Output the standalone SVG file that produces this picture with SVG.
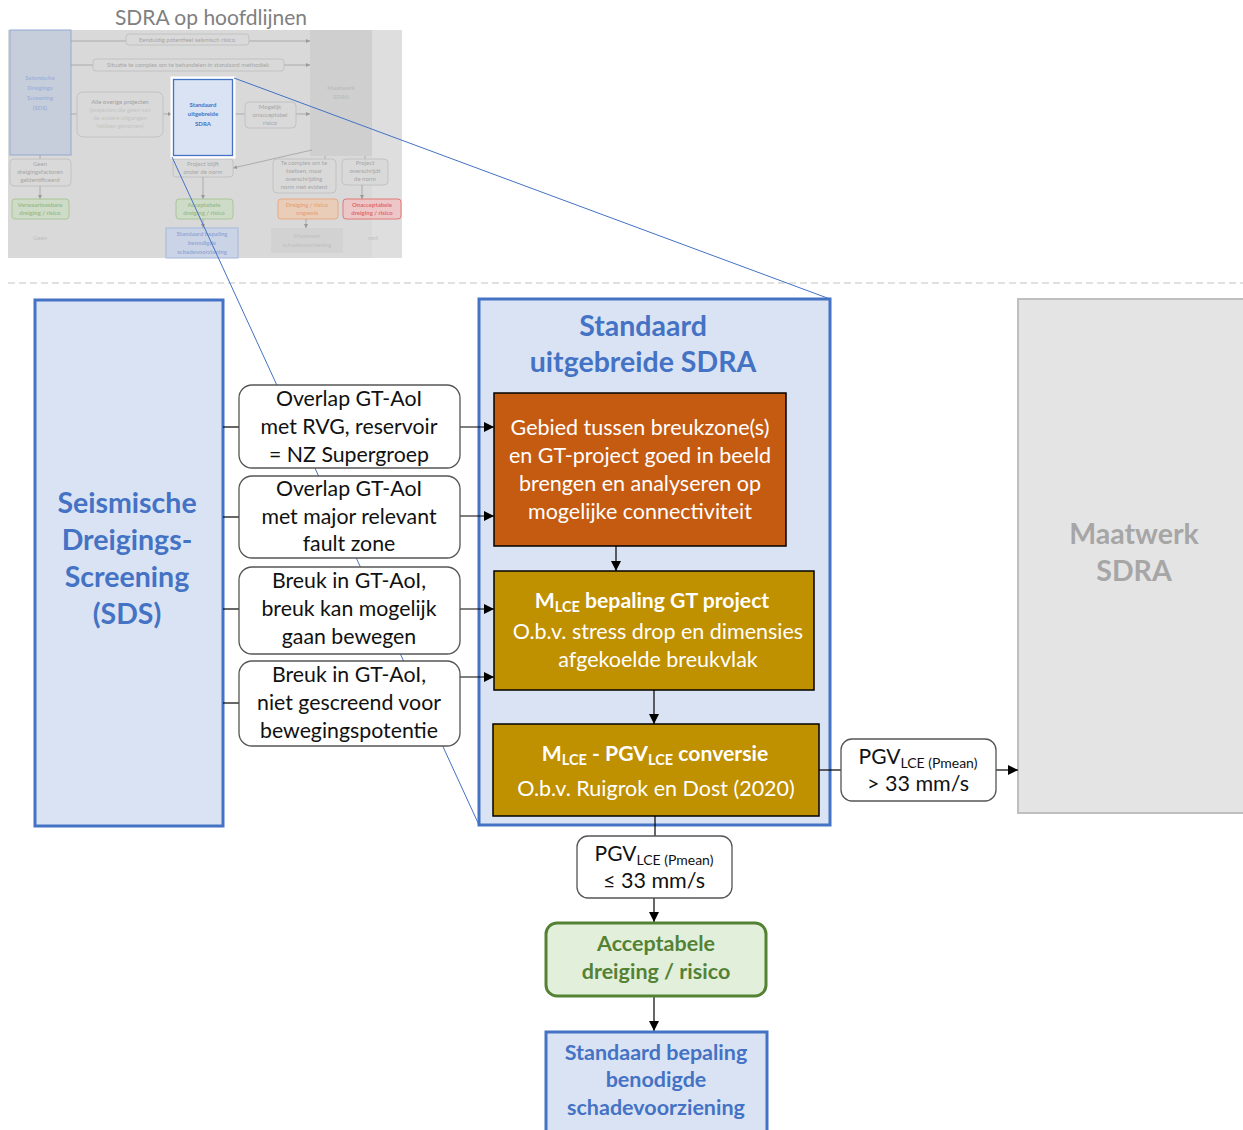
<svg xmlns="http://www.w3.org/2000/svg" width="1243" height="1130" viewBox="0 0 1243 1130">
<defs>
<marker id="ah" markerWidth="10" markerHeight="10" refX="10" refY="5" orient="auto" markerUnits="userSpaceOnUse">
<path d="M0,0 L10,5 L0,10 Z" fill="#000"/>
</marker>
<marker id="ahs" markerWidth="4" markerHeight="4" refX="4" refY="2" orient="auto" markerUnits="userSpaceOnUse">
<path d="M0,0 L4,2 L0,4 Z" fill="#999"/>
</marker>
<style>
text{font-family:Lato,"Liberation Sans",sans-serif;text-anchor:middle;}
.opt{fill:#fff;stroke:#555;stroke-width:1.3;}
.optt{font-size:21.3px;fill:#111;}
.blue{fill:#dae3f3;stroke:#4472c4;stroke-width:3;}
.bt{font-weight:bold;fill:#4472c4;}
.wt{fill:#fff;font-size:21.5px;}
.wtb{fill:#fff;font-size:21.2px;font-weight:bold;}
.conn{stroke:#000;stroke-width:1.2;fill:none;}
.th{font-size:6px;fill:#a6a6a6;}
.thl{stroke:#a0a0a0;stroke-width:0.8;fill:none;}
.thb{fill:#d9d9d9;stroke:#c2c2c2;stroke-width:1;}
.zoom{stroke:#4472c4;stroke-width:1;fill:none;}
</style>
</defs>

<!-- Thumbnail overview -->
<g id="thumbnail">
<text x="211" y="25" style="font-size:21px;fill:#808080;">SDRA op hoofdlijnen</text>
<rect x="8" y="30" width="394" height="228" fill="#d9d9d9"/>
<rect x="372" y="30" width="30" height="228" fill="#dedede"/>
<rect x="10" y="30" width="61" height="125" fill="#c7cedb" stroke="#93a9d2" stroke-width="1"/>
<text class="th" x="40" y="80" style="fill:#9db2d9;font-weight:bold;">Seismische</text>
<text class="th" x="40" y="90" style="fill:#9db2d9;font-weight:bold;">Dreigings</text>
<text class="th" x="40" y="100" style="fill:#9db2d9;font-weight:bold;">Screening</text>
<text class="th" x="40" y="110" style="fill:#9db2d9;font-weight:bold;">(SDS)</text>
<rect x="310" y="30" width="62" height="126" fill="#cfcfcf"/>
<text class="th" x="341" y="90" style="fill:#bdbdbd;font-weight:bold;">Maatwerk</text>
<text class="th" x="341" y="99" style="fill:#bdbdbd;font-weight:bold;">SDRA</text>
<line class="thl" x1="71" y1="41" x2="310" y2="41" marker-end="url(#ahs)"/>
<line class="thl" x1="71" y1="65" x2="310" y2="65" marker-end="url(#ahs)"/>
<line class="thl" x1="71" y1="114" x2="172" y2="114" marker-end="url(#ahs)"/>
<line class="thl" x1="234" y1="114" x2="310" y2="114" marker-end="url(#ahs)"/>
<rect class="thb" x="126" y="34" width="123" height="11" rx="3"/>
<text class="th" x="187" y="42">Eenduidig potentieel seismisch risico</text>
<rect class="thb" x="93" y="59" width="191" height="12" rx="3"/>
<text class="th" x="188" y="67">Situatie te complex om te behandelen in standaard methodiek</text>
<rect class="thb" x="77" y="92" width="86" height="45" rx="6"/>
<text class="th" x="120" y="104" style="fill:#a0a0a0;">Alle overige projecten</text>
<text class="th" x="120" y="112" style="fill:#c4c4c4;">(projecten die geen van</text>
<text class="th" x="120" y="120" style="fill:#c4c4c4;">de andere uitgangen</text>
<text class="th" x="120" y="128" style="fill:#c4c4c4;">hebben genomen)</text>
<rect class="thb" x="245" y="102" width="51" height="26" rx="4"/>
<text class="th" x="270" y="109">Mogelijk</text>
<text class="th" x="270" y="117">onacceptabel</text>
<text class="th" x="270" y="125">risico</text>
<line class="thl" x1="40" y1="155" x2="40" y2="159"/>
<rect class="thb" x="10" y="159" width="61" height="27" rx="4"/>
<text class="th" x="40" y="166">Geen</text>
<text class="th" x="40" y="174">dreigingsfactoren</text>
<text class="th" x="40" y="182">geïdentificeerd</text>
<line class="thl" x1="40" y1="186" x2="40" y2="199" marker-end="url(#ahs)"/>
<rect x="12" y="199" width="57" height="20" rx="3" fill="#cedbc7" stroke="#a9c69a"/>
<text class="th" x="40" y="207" style="fill:#9dbb8c;font-weight:bold;">Verwaarloosbare</text>
<text class="th" x="40" y="215" style="fill:#9dbb8c;font-weight:bold;">dreiging / risico</text>
<text class="th" x="40" y="240" style="fill:#bdbdbd;">Geen</text>
<line class="thl" x1="312" y1="150" x2="233" y2="168" marker-end="url(#ahs)"/>
<rect class="thb" x="173" y="159" width="60" height="18" rx="3"/>
<text class="th" x="203" y="166">Project blijft</text>
<text class="th" x="203" y="174">onder de norm</text>
<line class="thl" x1="203" y1="177" x2="203" y2="199" marker-end="url(#ahs)"/>
<rect x="176" y="199" width="57" height="20" rx="3" fill="#cedbc7" stroke="#a9c69a"/>
<text class="th" x="204" y="207" style="fill:#9dbb8c;font-weight:bold;">Acceptabele</text>
<text class="th" x="204" y="215" style="fill:#9dbb8c;font-weight:bold;">dreiging / risico</text>
<line class="thl" x1="203" y1="219" x2="203" y2="228" marker-end="url(#ahs)"/>
<rect x="166" y="228" width="72" height="30" fill="#cbd4e6" stroke="#a3b7dc"/>
<text class="th" x="202" y="236" style="fill:#93a9d4;font-weight:bold;">Standaard bepaling</text>
<text class="th" x="202" y="245" style="fill:#93a9d4;font-weight:bold;">benodigde</text>
<text class="th" x="202" y="254" style="fill:#93a9d4;font-weight:bold;">schadevoorziening</text>
<line class="thl" x1="325" y1="156" x2="325" y2="159"/>
<rect class="thb" x="273" y="159" width="63" height="34" rx="4"/>
<text class="th" x="304" y="165">Te complex om te</text>
<text class="th" x="304" y="173">toetsen, maar</text>
<text class="th" x="304" y="181">overschrijding</text>
<text class="th" x="304" y="189">norm niet evident</text>
<rect x="278" y="199" width="60" height="20" rx="3" fill="#e9cdb9" stroke="#e6a982"/>
<text class="th" x="307" y="207" style="fill:#e7a67e;font-weight:bold;">Dreiging / risico</text>
<text class="th" x="307" y="215" style="fill:#e7a67e;font-weight:bold;">ongewis</text>
<line class="thl" x1="306" y1="219" x2="306" y2="228" marker-end="url(#ahs)"/>
<rect x="271" y="228" width="72" height="25" fill="#d2d2d2"/>
<text class="th" x="307" y="238" style="fill:#c0c0c0;">Maatwerk</text>
<text class="th" x="307" y="247" style="fill:#c0c0c0;">schadevoorziening</text>
<line class="thl" x1="365" y1="156" x2="365" y2="159"/>
<rect class="thb" x="342" y="159" width="46" height="26" rx="4"/>
<text class="th" x="365" y="165">Project</text>
<text class="th" x="365" y="173">overschrijdt</text>
<text class="th" x="365" y="181">de norm</text>
<line class="thl" x1="362" y1="185" x2="362" y2="199" marker-end="url(#ahs)"/>
<rect x="343" y="199" width="58" height="20" rx="3" fill="#edc7c7" stroke="#e07a7a"/>
<text class="th" x="372" y="207" style="fill:#e06b6b;font-weight:bold;">Onacceptabele</text>
<text class="th" x="372" y="215" style="fill:#e06b6b;font-weight:bold;">dreiging / risico</text>
<text class="th" x="373" y="240" style="fill:#bdbdbd;">mvt</text>
<rect x="172" y="78" width="62" height="79" fill="#dae3f3" stroke="#fff" stroke-width="3"/>
<rect x="173.5" y="79.5" width="59" height="76" fill="#dae3f3" stroke="#4472c4" stroke-width="1.3"/>
<text class="th" x="203" y="107" style="fill:#4472c4;font-weight:bold;">Standaard</text>
<text class="th" x="203" y="116" style="fill:#4472c4;font-weight:bold;">uitgebreide</text>
<text class="th" x="203" y="126" style="fill:#4472c4;font-weight:bold;">SDRA</text>
</g>

<line x1="8" y1="283" x2="1243" y2="283" stroke="#c4c4c4" stroke-width="1.2" stroke-dasharray="7,4"/>

<!-- zoom lines (behind nodes) -->
<g id="zoomlines">
<line class="zoom" x1="234" y1="78" x2="830" y2="299"/>
<line class="zoom" x1="172" y1="157" x2="479" y2="825"/>
</g>

<g id="sds">
<rect class="blue" x="35" y="300" width="188" height="526"/>
<text class="bt" x="127" y="513" style="font-size:28.5px;">Seismische</text>
<text class="bt" x="127" y="550" style="font-size:28.5px;">Dreigings-</text>
<text class="bt" x="127" y="587" style="font-size:28.5px;">Screening</text>
<text class="bt" x="127" y="624" style="font-size:28.5px;">(SDS)</text>
</g>

<g id="standaard">
<rect class="blue" x="479" y="299" width="351" height="526"/>
<text class="bt" x="643" y="336" style="font-size:28.5px;">Standaard</text>
<text class="bt" x="643" y="372" style="font-size:28.5px;">uitgebreide SDRA</text>
</g>

<g id="maatwerk">
<rect x="1018" y="299" width="240" height="514" fill="#e4e4e4" stroke="#bfbfbf" stroke-width="2"/>
<text x="1134" y="544" style="font-size:28.5px;font-weight:bold;fill:#a6a6a6;">Maatwerk</text>
<text x="1134" y="581" style="font-size:28.5px;font-weight:bold;fill:#a6a6a6;">SDRA</text>
</g>

<!-- connectors -->
<g id="connectors">
<line class="conn" x1="223" y1="427" x2="239" y2="427"/>
<line class="conn" x1="223" y1="517" x2="239" y2="517"/>
<line class="conn" x1="223" y1="609" x2="239" y2="609"/>
<line class="conn" x1="223" y1="703" x2="239" y2="703"/>
<line class="conn" x1="460" y1="427" x2="494" y2="427" marker-end="url(#ah)"/>
<line class="conn" x1="460" y1="516" x2="494" y2="516" marker-end="url(#ah)"/>
<line class="conn" x1="460" y1="609" x2="494" y2="609" marker-end="url(#ah)"/>
<line class="conn" x1="460" y1="677" x2="494" y2="677" marker-end="url(#ah)"/>
<line class="conn" x1="616" y1="546" x2="616" y2="571" marker-end="url(#ah)"/>
<line class="conn" x1="654" y1="690" x2="654" y2="724" marker-end="url(#ah)"/>
<line class="conn" x1="819" y1="770" x2="841" y2="770"/>
<line class="conn" x1="996" y1="770" x2="1018" y2="770" marker-end="url(#ah)"/>
<line class="conn" x1="655" y1="816" x2="655" y2="836"/>
<line class="conn" x1="654" y1="898" x2="654" y2="922" marker-end="url(#ah)"/>
<line class="conn" x1="654" y1="996" x2="654" y2="1031" marker-end="url(#ah)"/>
</g>

<g id="opt1">
<rect class="opt" x="239" y="385" width="221" height="83" rx="13"/>
<text class="optt" x="349" y="406">Overlap GT-AoI</text>
<text class="optt" x="349" y="434">met RVG, reservoir</text>
<text class="optt" x="349" y="462">= NZ Supergroep</text>
</g>
<g id="opt2">
<rect class="opt" x="239" y="476" width="221" height="82" rx="13"/>
<text class="optt" x="349" y="496">Overlap GT-AoI</text>
<text class="optt" x="349" y="524">met major relevant</text>
<text class="optt" x="349" y="551">fault zone</text>
</g>
<g id="opt3">
<rect class="opt" x="239" y="567" width="221" height="87" rx="13"/>
<text class="optt" x="349" y="588">Breuk in GT-AoI,</text>
<text class="optt" x="349" y="616">breuk kan mogelijk</text>
<text class="optt" x="349" y="644">gaan bewegen</text>
</g>
<g id="opt4">
<rect class="opt" x="239" y="661" width="221" height="85" rx="13"/>
<text class="optt" x="349" y="682">Breuk in GT-AoI,</text>
<text class="optt" x="349" y="710">niet gescreend voor</text>
<text class="optt" x="349" y="738">bewegingspotentie</text>
</g>

<g id="gebied">
<rect x="494" y="393" width="292" height="153" fill="#c55a11" stroke="#000" stroke-width="1.5"/>
<text class="wt" x="640" y="435">Gebied tussen breukzone(s)</text>
<text class="wt" x="640" y="463">en GT-project goed in beeld</text>
<text class="wt" x="640" y="491">brengen en analyseren op</text>
<text class="wt" x="640" y="519">mogelijke connectiviteit</text>
</g>

<g id="mlce">
<rect x="494" y="571" width="320" height="119" fill="#bf9000" stroke="#000" stroke-width="1.5"/>
<text class="wtb" x="652" y="608">M<tspan dy="4" style="font-size:14.5px;">LCE</tspan><tspan dy="-4"> bepaling GT project</tspan></text>
<text class="wt" x="658" y="639">O.b.v. stress drop en dimensies</text>
<text class="wt" x="658" y="667">afgekoelde breukvlak</text>
</g>

<g id="conversie">
<rect x="493" y="724" width="326" height="92" fill="#bf9000" stroke="#000" stroke-width="1.5"/>
<text class="wtb" x="655" y="761">M<tspan dy="4" style="font-size:14.5px;">LCE</tspan><tspan dy="-4"> - PGV</tspan><tspan dy="4" style="font-size:14.5px;">LCE</tspan><tspan dy="-4"> conversie</tspan></text>
<text class="wt" x="656" y="796">O.b.v. Ruigrok en Dost (2020)</text>
</g>

<g id="pgvhigh">
<rect class="opt" x="841" y="739" width="155" height="62" rx="11"/>
<text x="918" y="764" style="font-size:21px;fill:#111;">PGV<tspan dy="4" style="font-size:14px;">LCE (Pmean)</tspan></text>
<text x="918" y="791" style="font-size:21.5px;fill:#111;">&gt; 33 mm/s</text>
</g>

<g id="pgvlow">
<rect class="opt" x="577" y="836" width="155" height="62" rx="11"/>
<text x="654" y="861" style="font-size:21px;fill:#111;">PGV<tspan dy="4" style="font-size:14px;">LCE (Pmean)</tspan></text>
<text x="654" y="888" style="font-size:21.5px;fill:#111;">≤ 33 mm/s</text>
</g>

<g id="acceptabel">
<rect x="546" y="923" width="220" height="73" rx="11" fill="#e2efda" stroke="#548235" stroke-width="3"/>
<text x="656" y="951" style="font-size:21.5px;font-weight:bold;fill:#548235;">Acceptabele</text>
<text x="656" y="979" style="font-size:21.5px;font-weight:bold;fill:#548235;">dreiging / risico</text>
</g>

<g id="schade">
<rect class="blue" x="546" y="1032" width="221" height="100"/>
<text class="bt" x="656" y="1060" style="font-size:21.5px;">Standaard bepaling</text>
<text class="bt" x="656" y="1087" style="font-size:21.5px;">benodigde</text>
<text class="bt" x="656" y="1115" style="font-size:21.5px;">schadevoorziening</text>
</g>
</svg>
